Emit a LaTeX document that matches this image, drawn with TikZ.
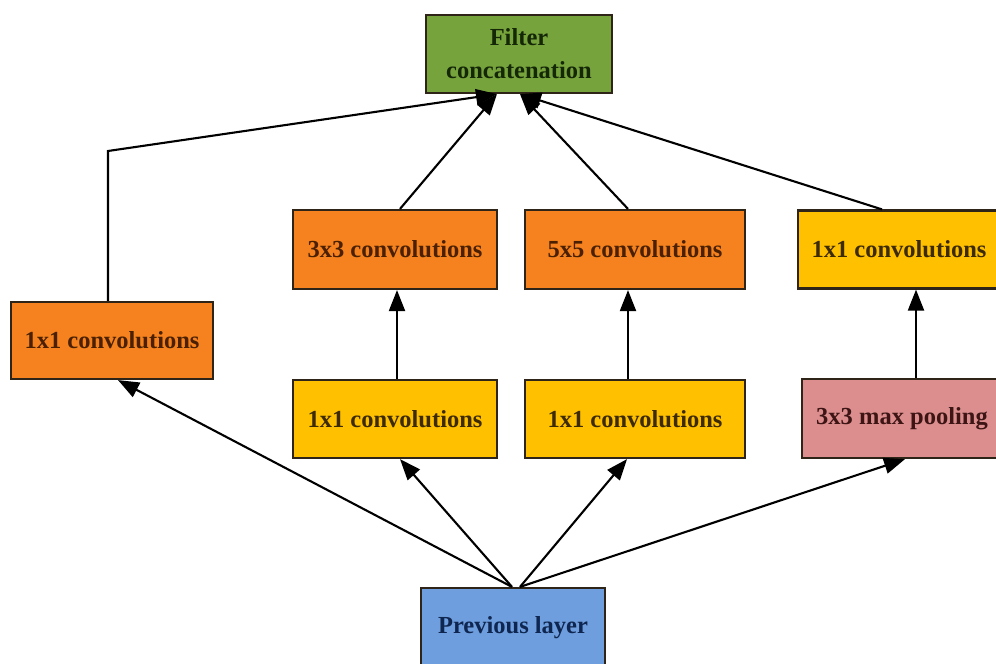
\documentclass[tikz,border=0pt]{standalone}
\usepackage{fontspec}
\setmainfont{Liberation Serif}
\usetikzlibrary{arrows.meta,calc}
\definecolor{cgreen}{HTML}{77A33C}
\definecolor{corange}{HTML}{F5821F}
\definecolor{cyellow}{HTML}{FFC000}
\definecolor{cpink}{HTML}{DC8E8E}
\definecolor{cblue}{HTML}{6E9EDD}
\definecolor{tgreen}{HTML}{142808}
\definecolor{torange}{HTML}{4A2000}
\definecolor{tyellow}{HTML}{3D2B00}
\definecolor{tpink}{HTML}{3E1515}
\definecolor{tblue}{HTML}{0E2650}
\definecolor{cborder}{HTML}{2E2418}
\tikzset{
  box/.style={draw=cborder, line width=2.2pt, rectangle, inner sep=0pt,
    font=\fontsize{24.5}{33}\selectfont\bfseries, align=center},
  greenbox/.style={box, fill=cgreen, text=tgreen},
  orangebox/.style={box, fill=corange, text=torange},
  yellowbox/.style={box, fill=cyellow, text=tyellow},
  pinkbox/.style={box, fill=cpink, text=tpink},
  bluebox/.style={box, fill=cblue, text=tblue},
  arr/.style={draw=black, line width=2.1pt, -{Triangle[length=21pt,width=16pt]}},
  ln/.style={draw=black, line width=2.1pt}
}
\begin{document}
\begin{tikzpicture}[x=1pt,y=-1pt]
\useasboundingbox (0,0) rectangle (996,664);
\clip (0,0) rectangle (996,664);
\fill[white] (0,0) rectangle (996,664);
\node[greenbox, minimum width=186pt, minimum height=78pt] (filter) at (519,54) {Filter\\concatenation};
\node[orangebox, minimum width=204pt, minimum height=79pt] (c3) at (395,249.5) {3x3 convolutions};
\node[orangebox, minimum width=220pt, minimum height=79pt] (c5) at (635,249.5) {5x5 convolutions};
\node[yellowbox, minimum width=202pt, minimum height=78pt] (c1r) at (899,249.5) {1x1 convolutions};
\node[orangebox, minimum width=202pt, minimum height=77pt] (c1l) at (112,340.5) {1x1 convolutions};
\node[yellowbox, minimum width=204pt, minimum height=78pt] (r3) at (395,419) {1x1 convolutions};
\node[yellowbox, minimum width=220pt, minimum height=78pt] (r5) at (635,419) {1x1 convolutions};
\node[pinkbox, minimum width=200pt, minimum height=79pt] (pool) at (902,418.5) {3x3 max pooling};
\node[bluebox, minimum width=184pt, minimum height=80pt] (prev) at (513,628) {Previous layer};
\coordinate (bend) at (108,151);
% top connections
\draw[arr] ([xshift=-4pt]c1l.north) -- (bend) -- ([xshift=-22pt]filter.south);
\draw[arr] ([xshift=5pt]c3.north) -- ([xshift=-22pt]filter.south);
\draw[arr] ([xshift=-7pt]c5.north) -- ([xshift=1pt]filter.south);
\draw[arr] ([xshift=-17pt]c1r.north) -- ([xshift=1pt]filter.south);
% middle verticals
\draw[arr] ([xshift=2pt]r3.north) -- ([xshift=2pt]c3.south);
\draw[arr] ([xshift=-7pt]r5.north) -- ([xshift=-7pt]r5.north |- c5.south);
\draw[arr] ([xshift=14pt]pool.north) -- ([xshift=14pt]pool.north |- c1r.south);
% bottom connections
\draw[arr] ([xshift=-1pt]prev.north) -- ([xshift=6pt]c1l.south);
\draw[arr] ([xshift=-1pt]prev.north) -- ([xshift=5pt]r3.south);
\draw[arr] ([xshift=7pt]prev.north) -- ([xshift=-8pt]r5.south);
\draw[arr] ([xshift=7pt]prev.north) -- ([xshift=3pt]pool.south);
\end{tikzpicture}
\end{document}
